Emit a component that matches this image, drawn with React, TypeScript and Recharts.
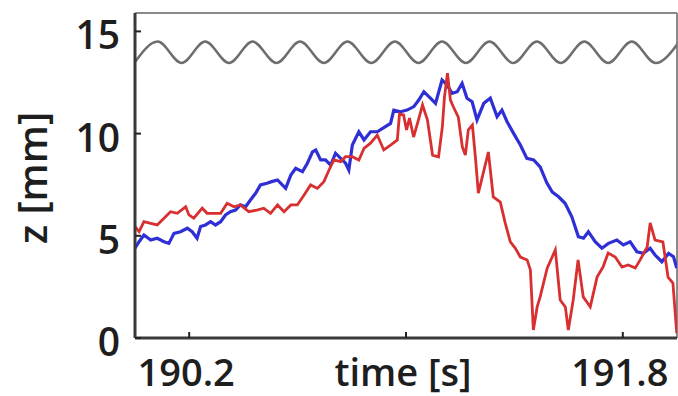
import React from 'react';
import { LineChart, Line, XAxis, YAxis, ReferenceLine } from 'recharts';

const FONT = '"Open Sans", "Noto Sans", sans-serif';

const redTime = [
  190.000, 190.015, 190.033, 190.058, 190.082, 190.107, 190.131, 190.156, 190.187, 190.199,
  190.217, 190.248, 190.266, 190.291, 190.316, 190.340, 190.365, 190.389, 190.420, 190.450,
  190.475, 190.500, 190.526, 190.550, 190.575, 190.599, 190.624, 190.648, 190.673, 190.697,
  190.716, 190.734, 190.759, 190.777, 190.802, 190.826, 190.845, 190.869, 190.894, 190.918,
  190.943, 190.968,
  190.976, 190.991, 191.002, 191.013, 191.028, 191.046, 191.061, 191.079, 191.098, 191.120,
  191.134, 191.142, 191.153, 191.164, 191.175, 191.193, 191.208, 191.219, 191.230, 191.245,
  191.256, 191.267, 191.285, 191.304, 191.322, 191.348, 191.366, 191.385, 191.403, 191.422,
  191.447, 191.459, 191.470, 191.484, 191.495, 191.521, 191.551, 191.569, 191.588, 191.599,
  191.617, 191.635, 191.654, 191.680, 191.705, 191.727, 191.746, 191.772, 191.797, 191.820,
  191.846, 191.864, 191.890, 191.901, 191.919, 191.948, 191.967, 191.985, 191.999,
];
const redZ = [
  5.45, 5.20, 5.69, 5.61, 5.53, 5.86, 6.18, 6.10, 6.42, 6.02,
  5.86, 6.35, 6.10, 6.10, 6.10, 6.59, 6.42, 6.51, 6.18, 6.26,
  6.35, 6.10, 6.51, 6.18, 6.51, 6.51, 7.00, 7.49, 7.32, 7.65,
  8.22, 8.71, 8.63, 8.87, 8.87, 8.71, 9.28, 9.53, 9.93, 9.20,
  9.44, 9.69,
  10.96, 10.91, 10.18, 10.76, 9.83, 10.67, 11.40, 10.67, 8.95, 8.86,
  10.32, 11.79, 12.96, 11.64, 11.30, 10.81, 9.34, 8.95, 10.18, 10.42,
  8.86, 7.09, 8.07, 9.10, 6.90, 6.65, 5.63, 4.70, 4.40, 3.96,
  3.82, 3.33, 0.39, 1.52, 2.01, 3.42, 4.31, 1.86, 1.52, 0.39,
  1.86, 3.82, 2.01, 1.52, 2.98, 3.47, 4.16, 3.96, 3.47, 3.57,
  3.42, 3.82, 4.45, 5.63, 4.79, 4.70, 2.98, 2.69, 0.24,
];

const blueTime = [
  190.000, 190.015, 190.033, 190.058, 190.082, 190.107, 190.125, 190.144, 190.168, 190.193,
  190.211, 190.229, 190.242, 190.260, 190.279, 190.297, 190.316, 190.334, 190.352, 190.371,
  190.389, 190.408, 190.426, 190.445, 190.463, 190.487, 190.504, 190.526, 190.556, 190.575,
  190.593, 190.618, 190.636, 190.655, 190.667, 190.685, 190.703, 190.722, 190.740, 190.759,
  190.777, 190.789, 190.802, 190.826, 190.845, 190.869, 190.894, 190.924, 190.943, 190.955,
  190.980, 191.004, 191.029, 191.047, 191.066, 191.090, 191.109, 191.133, 191.152, 191.170,
  191.189, 191.207, 191.225, 191.244, 191.262, 191.287, 191.311, 191.336, 191.354, 191.373,
  191.397, 191.422, 191.446, 191.471, 191.495, 191.520, 191.540, 191.563, 191.587, 191.612,
  191.636, 191.655, 191.673, 191.698, 191.723, 191.747, 191.778, 191.802, 191.827, 191.852,
  191.876, 191.901, 191.919, 191.944, 191.969, 191.987, 191.999,
];
const blueZ = [
  4.39, 4.71, 5.04, 4.79, 4.88, 4.71, 4.63, 5.12, 5.20, 5.37,
  5.20, 4.88, 5.45, 5.53, 5.69, 5.53, 5.69, 6.02, 6.18, 6.26,
  6.51, 6.42, 6.75, 7.08, 7.49, 7.57, 7.65, 7.73, 7.32, 7.97,
  8.30, 8.14, 8.55, 9.11, 9.20, 8.71, 8.71, 8.46, 9.04, 8.79,
  8.55, 8.22, 9.44, 10.09, 9.69, 10.09, 10.09, 10.34, 10.50, 11.15,
  11.07, 11.15, 11.32, 11.64, 12.05, 11.73, 11.48, 12.62, 12.38, 11.97,
  12.05, 12.46, 11.73, 11.56, 10.67, 11.48, 11.73, 10.83, 11.15, 10.58,
  10.01, 9.44, 8.79, 8.71, 8.37, 7.58, 7.14, 6.91, 6.59, 5.93,
  4.96, 4.88, 5.20, 4.71, 4.39, 4.63, 4.79, 4.55, 4.71, 4.22,
  4.14, 4.39, 4.06, 3.73, 4.14, 3.98, 3.42,
];

const waveTime = [
  189.997, 190.084, 190.172, 190.259, 190.347, 190.434, 190.522, 190.609,
  190.697, 190.784, 190.872, 190.959, 191.046, 191.133, 191.221, 191.308,
  191.396, 191.483, 191.571, 191.658, 191.746, 191.833, 191.921, 192.008,
];
const waveZ = [
  13.45, 14.50, 13.45, 14.50, 13.45, 14.50, 13.45, 14.50,
  13.45, 14.50, 13.45, 14.50, 13.45, 14.50, 13.45, 14.50,
  13.45, 14.50, 13.45, 14.50, 13.45, 14.50, 13.45, 14.50,
];

const xTicks = [190.2, 191.0, 191.8];
const xTickLabels = ['190.2', 'time [s]', '191.8'];
const yTicks = [0, 5, 10, 15];
const yLabel = 'z [mm]';

const toRows = (ts: number[], zs: number[]) => ts.map((t, i) => ({ t, z: zs[i] }));
const redData = toRows(redTime, redZ);
const blueData = toRows(blueTime, blueZ);
const waveData = toRows(waveTime, waveZ);

const XTick = (props: any) => {
  const { x, y, payload, index } = props;
  return (
    <text
      x={x - 3}
      y={y}
      dy={54}
      textAnchor="middle"
      fontFamily={FONT}
      fontSize={38}
      fontWeight={600}
      fill="#1e1e1e"
    >
      {xTickLabels[index] ?? String(payload.value)}
    </text>
  );
};

const YTick = (props: any) => {
  const { x, y, payload } = props;
  return (
    <text
      x={x + 2}
      y={y}
      dy={18}
      textAnchor="end"
      fontFamily={FONT}
      fontSize={39}
      fontWeight={600}
      fill="#1e1e1e"
    >
      {payload.value}
    </text>
  );
};

const YLabel = () => (
  <text
    x={47}
    y={178}
    transform="rotate(-90, 47, 178)"
    textAnchor="middle"
    fontFamily={FONT}
    fontSize={40}
    fontWeight={600}
    fill="#1e1e1e"
  >
    {yLabel}
  </text>
);

export default function App() {
  return (
    <div style={{ position: 'absolute', left: 0, top: 0, background: '#fff' }}>
      <LineChart width={678} height={396} margin={{ top: 13, right: 1, bottom: 57, left: 134 }}>
        <XAxis
          dataKey="t"
          type="number"
          domain={[190, 192]}
          allowDataOverflow
          ticks={xTicks}
          height={1}
          tickSize={-6}
          tickMargin={0}
          axisLine={{ stroke: '#3a3a3a', strokeWidth: 3 }}
          tickLine={{ stroke: '#222', strokeWidth: 2 }}
          tick={<XTick />}
          interval={0}
        />
        <YAxis
          type="number"
          domain={[0, 15.9]}
          allowDataOverflow
          ticks={yTicks}
          width={1}
          tickSize={-6}
          tickMargin={23}
          axisLine={{ stroke: '#3a3a3a', strokeWidth: 3 }}
          tickLine={{ stroke: '#222', strokeWidth: 2 }}
          tick={<YTick />}
          interval={0}
          label={<YLabel />}
        />
        <ReferenceLine y={15.9} stroke="#8a8a8a" strokeWidth={2} />
        <ReferenceLine x={192} stroke="#8a8a8a" strokeWidth={2} />
        <Line
          data={waveData}
          dataKey="z"
          type="monotone"
          stroke="#6e6e6e"
          strokeWidth={2.5}
          dot={false}
          isAnimationActive={false}
        />
        <Line
          data={blueData}
          dataKey="z"
          type="linear"
          stroke="#2f2fd6"
          strokeWidth={3.2}
          dot={false}
          isAnimationActive={false}
        />
        <Line
          data={redData}
          dataKey="z"
          type="linear"
          stroke="#d83030"
          strokeWidth={2.8}
          dot={false}
          isAnimationActive={false}
        />
      </LineChart>
    </div>
  );
}
